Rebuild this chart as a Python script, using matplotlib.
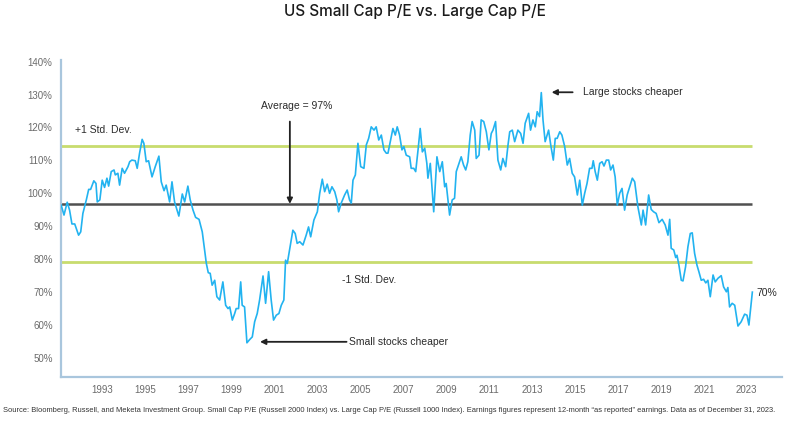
import matplotlib.pyplot as plt

# Small Cap P/E / Large Cap P/E ratio (%)
years = [
    1991.07, 1991.20, 1991.35, 1991.46, 1991.57, 1991.70, 1991.77, 1991.88, 1991.98,
    1992.08, 1992.24, 1992.35, 1992.44, 1992.59, 1992.69, 1992.75, 1992.87, 1992.98,
    1993.09, 1993.20, 1993.28, 1993.40, 1993.53, 1993.59, 1993.71, 1993.79, 1993.91,
    1994.02, 1994.18, 1994.26, 1994.36, 1994.52, 1994.61, 1994.72, 1994.84, 1994.92,
    1995.03, 1995.14, 1995.30, 1995.45, 1995.62, 1995.73, 1995.86, 1995.96,
    1996.12, 1996.23, 1996.35, 1996.55, 1996.71, 1996.82, 1996.97,
    1997.08, 1997.21, 1997.33, 1997.49, 1997.64, 1997.75, 1997.83, 1997.92,
    1998.01, 1998.10, 1998.22, 1998.32, 1998.45, 1998.60, 1998.73, 1998.84, 1998.92,
    1999.04, 1999.15, 1999.22, 1999.33, 1999.43, 1999.50, 1999.61, 1999.72, 1999.85, 1999.97,
    2000.08, 2000.20, 2000.31, 2000.47, 2000.59, 2000.73, 2000.85, 2000.96,
    2001.09, 2001.21, 2001.32, 2001.44, 2001.52, 2001.60, 2001.76, 2001.86, 2001.97,
    2002.06, 2002.18, 2002.33, 2002.48, 2002.59, 2002.69, 2002.84,
    2003.00, 2003.11, 2003.23, 2003.34, 2003.46, 2003.57, 2003.68, 2003.81, 2003.91, 2003.99,
    2004.11, 2004.27, 2004.39, 2004.50, 2004.58, 2004.66, 2004.77, 2004.89,
    2005.02, 2005.17, 2005.28, 2005.39, 2005.51, 2005.64, 2005.74, 2005.86, 2005.98,
    2006.10, 2006.21, 2006.29, 2006.41, 2006.52, 2006.63, 2006.72, 2006.83, 2006.94,
    2007.03, 2007.14, 2007.30, 2007.37, 2007.49, 2007.58, 2007.69, 2007.79, 2007.89,
    2008.00, 2008.10, 2008.15, 2008.26, 2008.42, 2008.57, 2008.70, 2008.82, 2008.93,
    2009.00, 2009.16, 2009.28, 2009.39, 2009.47, 2009.60, 2009.70, 2009.81, 2009.91,
    2010.01, 2010.12, 2010.21, 2010.33, 2010.40, 2010.53, 2010.63, 2010.75, 2010.87, 2010.99,
    2011.10, 2011.18, 2011.30, 2011.41, 2011.54, 2011.64, 2011.77, 2011.88, 2011.96,
    2012.08, 2012.19, 2012.34, 2012.47, 2012.58, 2012.68, 2012.84, 2012.93,
    2013.04, 2013.15, 2013.24, 2013.35, 2013.43, 2013.51, 2013.61, 2013.77, 2013.87, 2013.99,
    2014.08, 2014.17, 2014.29, 2014.39, 2014.52, 2014.64, 2014.75, 2014.87, 2014.98,
    2015.11, 2015.22, 2015.34, 2015.45, 2015.56, 2015.68, 2015.79, 2015.85, 2015.94,
    2016.04, 2016.15, 2016.26, 2016.35, 2016.46, 2016.57, 2016.66, 2016.77, 2016.87, 2016.97,
    2017.08, 2017.19, 2017.31, 2017.43, 2017.55, 2017.67, 2017.78, 2017.93,
    2018.09, 2018.17, 2018.29, 2018.43, 2018.55, 2018.66, 2018.78, 2018.91,
    2019.06, 2019.20, 2019.33, 2019.41, 2019.48, 2019.60, 2019.69, 2019.75, 2019.84, 2019.95,
    2020.03, 2020.15, 2020.26, 2020.37, 2020.46, 2020.57, 2020.68, 2020.77, 2020.88, 2020.99,
    2021.09, 2021.19, 2021.30, 2021.43, 2021.53, 2021.66, 2021.81, 2021.92,
    2022.05, 2022.12, 2022.20, 2022.32, 2022.44, 2022.59, 2022.74, 2022.90,
    2023.01, 2023.10, 2023.26,
]
ratio = [
    96.4, 93.4, 97.3, 94.9, 90.7, 90.7, 89.4, 87.3, 88.3,
    93.9, 98.0, 101.2, 101.2, 103.8, 103.0, 97.4, 98.0, 104.0,
    101.8, 104.6, 102.2, 106.6, 107.1, 105.6, 106.1, 102.5, 107.6,
    106.1, 108.1, 109.6, 110.1, 109.9, 107.6, 112.2, 116.4, 115.2,
    109.6, 109.9, 105.0, 108.1, 111.3, 103.5, 100.8, 102.5,
    97.4, 103.5, 97.4, 93.1, 99.8, 97.4, 102.2,
    98.0, 94.9, 92.7, 92.1, 88.3, 82.8, 78.7, 75.9,
    75.7, 72.1, 73.6, 68.6, 67.6, 73.1, 66.0, 65.0, 65.5,
    61.5, 63.5, 65.0, 65.0, 73.1, 66.0, 65.5, 54.6, 55.6, 56.4,
    61.0, 63.5, 67.6, 74.9, 66.6, 76.2, 67.6, 61.5,
    63.0, 63.5, 66.0, 67.6, 79.7, 78.7, 84.8, 88.8, 87.8,
    84.8, 85.3, 84.3, 87.3, 89.8, 86.8, 91.9,
    94.4, 100.0, 104.3, 100.5, 102.8, 100.0, 102.0, 100.5, 98.0, 94.4,
    97.0, 99.5, 101.0, 98.0, 97.0, 104.0, 105.6, 115.2,
    108.1, 107.6, 114.7, 116.7, 120.2, 119.2, 120.2, 116.2, 117.7,
    113.2, 112.2, 112.2, 116.2, 119.7, 117.7, 120.2, 117.7, 113.2,
    114.2, 111.6, 111.1, 107.6, 107.6, 106.6, 113.2, 119.7, 112.6,
    113.7, 109.1, 104.6, 109.1, 94.4, 111.1, 106.6, 109.6, 102.0,
    103.0, 93.4, 98.0, 98.5, 106.6, 109.1, 111.1, 108.6, 107.1,
    109.6, 117.7, 121.8, 119.2, 110.6, 111.6, 122.3, 121.8, 118.7, 113.2,
    118.2, 119.2, 121.8, 110.1, 107.1, 110.6, 108.1, 114.7, 118.7,
    119.2, 115.7, 119.2, 118.2, 115.2, 121.3, 124.3, 119.2,
    122.3, 120.2, 124.8, 123.3, 130.6, 122.3, 115.7, 119.2, 114.7, 110.1,
    116.7, 116.7, 118.7, 117.7, 114.2, 108.6, 110.6, 106.1, 105.0,
    99.5, 104.0, 96.4, 100.0, 103.0, 107.6, 107.6, 109.9, 106.6,
    104.0, 109.1, 109.6, 108.3, 110.1, 110.1, 107.1, 108.6, 105.0, 96.4,
    100.0, 101.5, 94.9, 99.5, 102.0, 104.6, 103.5, 95.9,
    90.4, 94.9, 90.4, 99.5, 95.1, 94.4, 93.9, 91.1,
    92.1, 90.4, 87.3, 92.1, 83.3, 82.8, 80.5, 81.2, 78.2, 73.6,
    73.4, 77.7, 83.8, 87.8, 88.0, 81.8, 78.2, 76.2, 73.6, 73.9,
    72.8, 73.6, 68.6, 75.2, 73.1, 74.2, 75.0, 71.6,
    70.1, 71.4, 65.5, 66.6, 66.0, 59.7, 61.0, 63.3,
    63.0, 60.0, 70.0,
]

AVERAGE = 96.8
PLUS_STD = 114.4
MINUS_STD = 79.2

tick_years = list(range(1993, 2024, 2))
tick_pcts = list(range(50, 141, 10))

LINE_BLUE = '#22b3f0'
BAND_GREEN = '#c8dc6e'
SPINE_BLUE = '#a9c6dd'
TEXT = '#2b2b2b'

plt.rcParams['font.family'] = ['Liberation Sans', 'DejaVu Sans']

fig = plt.figure(figsize=(7.93, 4.22), dpi=100)
ax = fig.add_axes([0.0769, 0.1073, 0.9092, 0.7505])

x_end = years[-1]
ax.hlines(PLUS_STD, years[0], x_end, color=BAND_GREEN, lw=2.0, zorder=1)
ax.hlines(MINUS_STD, years[0], x_end, color=BAND_GREEN, lw=2.0, zorder=1)
ax.hlines(AVERAGE, years[0], x_end, color='#505050', lw=1.8, zorder=1)
ax.plot(years, ratio, color=LINE_BLUE, lw=1.2, zorder=3)

ax.set_xlim(1991.06, 2024.64)
ax.set_ylim(44.3, 140.5)
ax.set_xticks(tick_years)
ax.set_xticklabels([str(y) for y in tick_years])
ax.set_yticks(tick_pcts)
ax.set_yticklabels([f'{p}%' for p in tick_pcts])
ax.tick_params(length=0, labelsize=7, colors='#6b6b6b', pad=6)

for side in ('top', 'right'):
    ax.spines[side].set_visible(False)
for side in ('left', 'bottom'):
    ax.spines[side].set_color(SPINE_BLUE)
    ax.spines[side].set_linewidth(1.6)

arrow = dict(arrowstyle='-|>', color='#222222', lw=1.3, mutation_scale=8,
             shrinkA=0, shrinkB=0)

ax.annotate('', xy=(2001.72, AVERAGE), xytext=(2001.72, 121.8), arrowprops=arrow)
ax.text(2002.04, 126.6, 'Average = 97%', ha='center', va='center', fontsize=7.5, color=TEXT)
ax.text(1991.71, 119.2, '+1 Std. Dev.', ha='left', va='center', fontsize=7.5, color=TEXT)
ax.text(2004.13, 73.6, '-1 Std. Dev.', ha='left', va='center', fontsize=7.5, color=TEXT)

ax.annotate('', xy=(2000.33, 54.9), xytext=(2004.36, 54.9), arrowprops=arrow)
ax.text(2004.47, 54.9, 'Small stocks cheaper', ha='left', va='center', fontsize=7.5, color=TEXT)

ax.annotate('', xy=(2013.91, 130.7), xytext=(2014.89, 130.7), arrowprops=arrow)
ax.text(2015.39, 130.7, 'Large stocks cheaper', ha='left', va='center', fontsize=7.5, color=TEXT)

ax.text(2023.43, 69.6, '70%', ha='left', va='center', fontsize=7.5, color=TEXT)

fig.text(0.523, 0.972, 'US Small Cap P/E vs. Large Cap P/E', ha='center', va='center',
         fontsize=11, fontweight='medium', color='#1a1a1a', family=['Inter', 'DejaVu Sans'])

fig.text(0.004, 0.028, 'Source: Bloomberg, Russell, and Meketa Investment Group. Small Cap P/E '
         '(Russell 2000 Index) vs. Large Cap P/E (Russell 1000 Index). Earnings figures represent '
         '12-month \u201cas reported\u201d earnings. Data as of December 31, 2023.',
         ha='left', va='center', fontsize=5.45, color='#333333',
         family=['Liberation Sans Narrow', 'Liberation Sans', 'DejaVu Sans'])

fig.savefig('out.png', dpi=100)
